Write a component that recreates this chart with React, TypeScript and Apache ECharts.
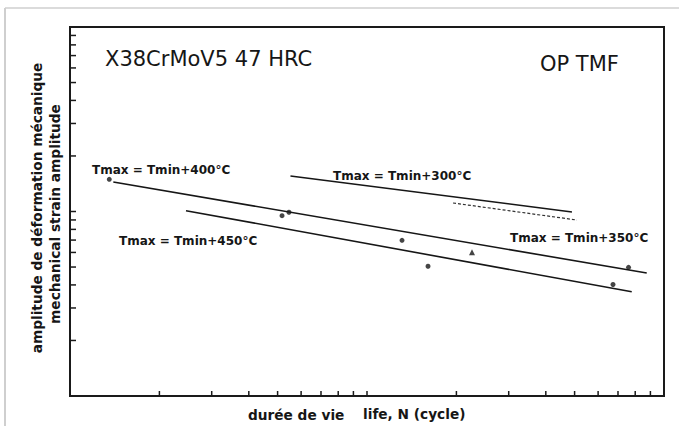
import React, { useEffect, useRef } from "react";
import * as echarts from "echarts";

// Axis ranges (log scales)
const X_MIN = 100;
const X_MAX = 10000;
const Y_MIN = 0.1;
const Y_MAX = 10;

// Minor tick values (log decades)
const xTickValues = [200, 300, 400, 500, 600, 700, 800, 900, 1000, 2000, 3000, 4000, 5000, 6000, 7000, 8000, 9000];
const yTickValues = [0.2, 0.3, 0.4, 0.5, 0.6, 0.7, 0.8, 0.9, 1, 2, 3, 4, 5, 6, 7, 8, 9];

// Experimental points [N, strain amplitude]
const pointsCircle = [
  [135.6, 1.494],
  [517.5, 0.949],
  [546, 0.991],
  [1312, 0.698],
  [1605, 0.505],
  [7596, 0.498],
  [6734, 0.402],
];
const pointsTriangle = [[2257, 0.602]];

// Fitted lines
const line400 = [[139.9, 1.445], [8747, 0.464]];
const line450 = [[245.8, 1.01], [7786, 0.3675]];
const line300 = [[552.5, 1.557], [4899, 0.994]];
const line300Dashed = [[1948, 1.112], [5094, 0.899]];

// Texts
const titleText = "X38CrMoV5 47 HRC";
const modeText = "OP TMF";
const label400 = "Tmax = Tmin+400°C";
const label450 = "Tmax = Tmin+450°C";
const label300 = "Tmax = Tmin+300°C";
const label350 = "Tmax = Tmin+350°C";
const yTitleFr = "amplitude de déformation mécanique";
const yTitleEn = "mechanical strain amplitude";
const xTitleFr = "durée de vie";
const xTitleEn = "life, N (cycle)";

const INK = "#161616";
const BOLD12 = 'bold 12px "DejaVu Sans"';
const BOLDAX = 'bold 13.7px "DejaVu Sans"';

function txt(x: number, y: number, text: string, font: string, align = "left", rotation = 0) {
  return {
    type: "text",
    x,
    y,
    rotation,
    silent: true,
    style: {
      text,
      font,
      fill: INK,
      align,
      verticalAlign: "middle",
      textAlign: align,
      textVerticalAlign: "middle",
    },
  };
}

export default function App() {
  const ref = useRef<HTMLDivElement>(null);

  useEffect(() => {
    if (!ref.current) return;
    const chart = echarts.init(ref.current, undefined, { renderer: "svg" });

    const lineSeries = (data: number[][], dashed = false) => ({
      type: "line",
      data,
      showSymbol: false,
      symbol: "none",
      lineStyle: { color: dashed ? "#333" : INK, width: dashed ? 1.2 : 1.6, type: dashed ? [3, 2] : "solid" },
      z: 3,
    });

    chart.setOption({
      animation: false,
      backgroundColor: "#ffffff",
      grid: {
        left: 70,
        top: 27,
        width: 594,
        height: 369,
        show: true,
        borderColor: "#1a1a1a",
        borderWidth: 2,
        backgroundColor: "transparent",
      },
      xAxis: {
        type: "log",
        logBase: 10,
        min: X_MIN,
        max: X_MAX,
        axisLine: { show: true, lineStyle: { color: "#1a1a1a", width: 2 } },
        axisTick: { show: false },
        axisLabel: { show: false },
        splitLine: { show: false },
        minorTick: { show: false },
      },
      yAxis: {
        type: "log",
        logBase: 10,
        min: Y_MIN,
        max: Y_MAX,
        axisLine: { show: true, lineStyle: { color: "#1a1a1a", width: 2 } },
        axisTick: { show: false },
        axisLabel: { show: false },
        splitLine: { show: false },
        minorTick: { show: false },
      },
      series: [
        {
          type: "custom",
          data: xTickValues.map((v) => [v, Y_MIN]),
          renderItem: (_p: any, api: any) => {
            const pt = api.coord([api.value(0), Y_MIN]);
            return {
              type: "line",
              shape: { x1: pt[0], y1: pt[1], x2: pt[0], y2: pt[1] - 5 },
              style: { stroke: "#1a1a1a", lineWidth: 1.5 },
            };
          },
          silent: true,
          z: 4,
        },
        {
          type: "custom",
          data: yTickValues.map((v) => [X_MIN, v]),
          renderItem: (_p: any, api: any) => {
            const pt = api.coord([X_MIN, api.value(1)]);
            return {
              type: "line",
              shape: { x1: pt[0], y1: pt[1], x2: pt[0] + 6, y2: pt[1] },
              style: { stroke: "#1a1a1a", lineWidth: 1.5 },
            };
          },
          silent: true,
          z: 4,
        },
        lineSeries(line400),
        lineSeries(line450),
        lineSeries(line300),
        lineSeries(line300Dashed, true),
        {
          type: "scatter",
          data: pointsCircle,
          symbol: "circle",
          symbolSize: 5,
          itemStyle: { color: INK },
          z: 5,
        },
        {
          type: "scatter",
          data: pointsTriangle,
          symbol: "triangle",
          symbolSize: 6,
          itemStyle: { color: INK },
          z: 5,
        },
      ],
      graphic: [
        { type: "line", silent: true, shape: { x1: 5, y1: 8, x2: 679, y2: 8 }, style: { stroke: "#cfcfcf", lineWidth: 1.5 } },
        { type: "line", silent: true, shape: { x1: 5, y1: 8, x2: 5, y2: 426 }, style: { stroke: "#cfcfcf", lineWidth: 2 } },
        txt(105, 59, titleText, 'normal 21px "DejaVu Sans"'),
        txt(540, 64, modeText, 'normal 21px "DejaVu Sans"'),
        txt(92, 170, label400, BOLD12),
        txt(119, 241, label450, BOLD12),
        txt(333, 175.5, label300, BOLD12),
        txt(510, 237.5, label350, BOLD12),
        txt(37, 208, yTitleFr, BOLDAX, "center", Math.PI / 2),
        txt(55, 214, yTitleEn, BOLDAX, "center", Math.PI / 2),
        txt(248, 415, xTitleFr, BOLDAX),
        txt(363, 414, xTitleEn, BOLDAX),
      ],
    });

    return () => chart.dispose();
  }, []);

  return (
    <div
      ref={ref}
      style={{ position: "fixed", left: 0, top: 0, width: 679, height: 426, background: "#fff" }}
    />
  );
}
